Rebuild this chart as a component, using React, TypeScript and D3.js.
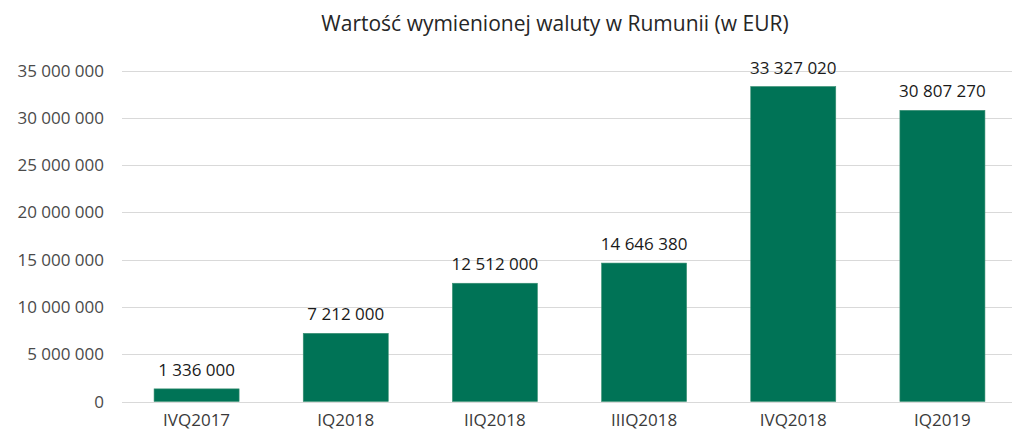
import React, { useRef, useEffect } from 'react';
import * as d3 from 'd3';

const title = 'Wartość wymienionej waluty w Rumunii (w EUR)';
const categories = ['IVQ2017', 'IQ2018', 'IIQ2018', 'IIIQ2018', 'IVQ2018', 'IQ2019'];
const values = [1336000, 7212000, 12512000, 14646380, 33327020, 30807270];
const yTicks = [0, 5000000, 10000000, 15000000, 20000000, 25000000, 30000000, 35000000];

const fmt = (v: number) => d3.format(',')(v).replace(/,/g, ' ');

const App = () => {
  const svgRef = useRef<SVGSVGElement>(null);

  useEffect(() => {
    const width = 1012;
    const height = 432;
    const font = '"Open Sans", sans-serif';

    const svg = d3.select(svgRef.current)
      .attr('width', width)
      .attr('height', height);
    svg.selectAll('*').remove();

    const x = d3.scaleBand()
      .domain(categories)
      .range([122, 1017])
      .paddingInner(0.43)
      .paddingOuter(0.215);

    const y = d3.scaleLinear()
      .domain([0, 35000000])
      .range([401.5, 70.7]);

    // gridlines
    svg.append('g')
      .selectAll('line')
      .data(yTicks)
      .join('line')
      .attr('x1', 122)
      .attr('x2', 1017)
      .attr('y1', d => Math.round(y(d)) + 0.5)
      .attr('y2', d => Math.round(y(d)) + 0.5)
      .attr('stroke', '#d9d9d9')
      .attr('stroke-width', 1);

    // y tick labels
    svg.append('g')
      .selectAll('text')
      .data(yTicks)
      .join('text')
      .attr('x', 104)
      .attr('y', d => y(d) + 6)
      .attr('text-anchor', 'end')
      .attr('font-family', font)
      .attr('font-size', 17)
      .attr('fill', '#4a4a4a')
      .text(d => fmt(d));

    // bars
    svg.append('g')
      .selectAll('rect')
      .data(values)
      .join('rect')
      .attr('x', (d, i) => x(categories[i]) as number)
      .attr('y', d => y(d))
      .attr('width', x.bandwidth())
      .attr('height', d => y(0) - y(d))
      .attr('fill', '#007356')
      .attr('stroke', '#3a8f72')
      .attr('stroke-width', 0.6);

    // value labels
    svg.append('g')
      .selectAll('text')
      .data(values)
      .join('text')
      .attr('x', (d, i) => (x(categories[i]) as number) + x.bandwidth() / 2)
      .attr('y', d => y(d) - 13)
      .attr('text-anchor', 'middle')
      .attr('font-family', font)
      .attr('font-size', 17)
      .attr('fill', '#1a1a1a')
      .text(d => fmt(d));

    // category labels
    svg.append('g')
      .selectAll('text')
      .data(categories)
      .join('text')
      .attr('x', d => (x(d) as number) + x.bandwidth() / 2)
      .attr('y', 426)
      .attr('text-anchor', 'middle')
      .attr('font-family', font)
      .attr('font-size', 17)
      .attr('fill', '#3a3a3a')
      .text(d => d);

    // title
    svg.append('text')
      .attr('x', 555)
      .attr('y', 31)
      .attr('text-anchor', 'middle')
      .attr('font-family', font)
      .attr('font-size', 21)
      .attr('fill', '#262626')
      .text(title);
  }, []);

  return (
    <svg ref={svgRef} style={{ position: 'absolute', left: 0, top: 0, background: '#fff' }}></svg>
  );
};

export default App;
